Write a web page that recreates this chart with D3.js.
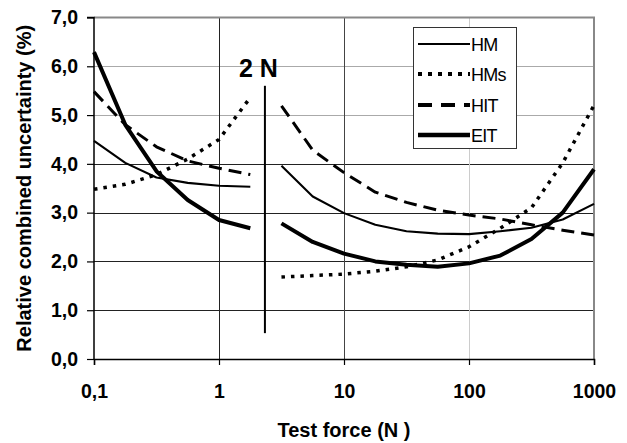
<!DOCTYPE html>
<html>
<head>
<meta charset="utf-8">
<script src="https://cdnjs.cloudflare.com/ajax/libs/d3/7.8.5/d3.min.js"></script>
<style>
  body { margin: 0; background: #fff; }
  svg { font-family: Arial, "Liberation Sans", sans-serif; }
  .tick text { font-weight: bold; font-size: 19.5px; fill: #000; }
</style>
</head>
<body>
<div id="chart-container"></div>
<script>
"use strict"

// test forces (N), two measuring ranges separated at 2 N
let xLeft = [0.1, 0.178, 0.316, 0.562, 1, 1.78];
let xRight = [3.16, 5.62, 10, 17.8, 31.6, 56.2, 100, 178, 316, 562, 1000];

// relative combined uncertainty (%)
let hmLeft = [4.47, 4.02, 3.72, 3.61, 3.55, 3.53];
let hmRight = [3.96, 3.33, 2.99, 2.75, 2.62, 2.57, 2.56, 2.62, 2.69, 2.86, 3.18];
let hmsLeft = [3.48, 3.58, 3.78, 4.1, 4.5, 5.36];
let hmsRight = [1.68, 1.71, 1.74, 1.8, 1.89, 2.03, 2.3, 2.68, 3.1, 4.02, 5.2];
let hitLeft = [5.48, 4.8, 4.35, 4.06, 3.91, 3.78];
let hitRight = [5.19, 4.28, 3.82, 3.42, 3.21, 3.05, 2.95, 2.87, 2.75, 2.64, 2.54];
let eitLeft = [6.29, 4.8, 3.85, 3.26, 2.85, 2.68];
let eitRight = [2.78, 2.4, 2.16, 2.0, 1.93, 1.89, 1.96, 2.12, 2.46, 3.0, 3.89];

let seriesNames = ["HM", "HMs", "HIT", "EIT"];
let xTicks = [0.1, 1, 10, 100, 1000];
let xTickLabels = ["0,1", "1", "10", "100", "1000"];
let yTicks = [0, 1, 2, 3, 4, 5, 6, 7];

// 2 N separator
let markerX = 2.33;
let markerY = [0.53, 5.6];

document.addEventListener('DOMContentLoaded', function(){
  drawChart();
});

function drawChart(){
  let svgWidth = 627;
  let svgHeight = 443;
  let left = 94, right = 594, top = 17.5, bottom = 359;

  var svg = d3.select('#chart-container')
    .append('svg')
    .attr('width', svgWidth)
    .attr('height', svgHeight);

  let xScale = d3.scaleLog().domain([0.1, 1000]).range([left, right]);
  let yScale = d3.scaleLinear().domain([0, 7]).range([bottom, top]);

  /***************************************
   GRID
  ***************************************/
  let hGridColor = {1: "#222", 2: "#222", 3: "#222", 4: "#222", 5: "#aaa", 6: "#aaa"};
  svg.append("g").selectAll("line")
    .data([1, 2, 3, 4, 5, 6])
    .enter().append("line")
    .attr("x1", left).attr("x2", right)
    .attr("y1", d => Math.round(yScale(d)) + 0.5)
    .attr("y2", d => Math.round(yScale(d)) + 0.5)
    .attr("stroke", d => hGridColor[d]);

  let vGridColor = {1: "#222", 10: "#444", 100: "#ccc"};
  svg.append("g").selectAll("line")
    .data([1, 10, 100])
    .enter().append("line")
    .attr("y1", top).attr("y2", bottom)
    .attr("x1", d => Math.round(xScale(d)) + 0.5)
    .attr("x2", d => Math.round(xScale(d)) + 0.5)
    .attr("stroke", d => vGridColor[d]);

  // top and right frame
  svg.append("path")
    .attr("d", `M${left},${yScale(7)}H${xScale(1000)}V${bottom}`)
    .attr("fill", "none")
    .attr("stroke", "#888")
    .attr("stroke-width", 2);

  /***************************************
   AXES
  ***************************************/
  const xAxis = d3.axisBottom(xScale)
    .tickValues(xTicks)
    .tickFormat((d, i) => xTickLabels[i])
    .tickSize(6)
    .tickPadding(19);
  const yAxis = d3.axisLeft(yScale)
    .tickValues(yTicks)
    .tickFormat(d => d.toFixed(1).replace(".", ","))
    .tickSize(7)
    .tickPadding(9);

  let gx = svg.append("g")
    .attr("transform", "translate(0, " + bottom + ")")
    .call(xAxis);
  let gy = svg.append("g")
    .attr("transform", "translate(" + left + ", 0)")
    .call(yAxis);
  [gx, gy].forEach(g => {
    g.select(".domain").attr("stroke", "#000").attr("stroke-width", 1.5);
    g.selectAll(".tick line").attr("stroke", "#000").attr("stroke-width", 1.2);
  });
  gy.select(".domain").attr("d", `M-7,${yScale(7)}H0V${bottom}`);

  svg.append('text')
    .attr('transform', 'translate(31,' + ((top + bottom) / 2) + ') rotate(-90)')
    .attr('text-anchor', 'middle')
    .style('font-weight', 'bold')
    .style('font-size', '20px')
    .text('Relative combined uncertainty (%)');

  svg.append('text')
    .attr('x', (left + right) / 2)
    .attr('y', 437)
    .attr('text-anchor', 'middle')
    .style('font-weight', 'bold')
    .style('font-size', '20px')
    .text('Test force (N )');

  /***************************************
   LINES
  ***************************************/
  let styles = {
    "HM":  {width: 2.1, dash: null},
    "HMs": {width: 3.5, dash: "3.5,6"},
    "HIT": {width: 3, dash: "13,7"},
    "EIT": {width: 4, dash: null}
  };
  let seriesData = {
    "HM": [hmLeft, hmRight],
    "HMs": [hmsLeft, hmsRight],
    "HIT": [hitLeft, hitRight],
    "EIT": [eitLeft, eitRight]
  };

  let line = d3.line()
    .x(d => xScale(d[0]))
    .y(d => yScale(d[1]));

  seriesNames.forEach(name => {
    let st = styles[name];
    [[xLeft, seriesData[name][0]], [xRight, seriesData[name][1]]].forEach(pair => {
      let pts = pair[0].map((x, i) => [x, pair[1][i]]);
      svg.append("path")
        .datum(pts)
        .attr("d", line)
        .attr("fill", "none")
        .attr("stroke", "#000")
        .attr("stroke-width", st.width)
        .attr("stroke-dasharray", st.dash)
        .attr("stroke-linejoin", "round");
    });
  });

  // 2 N marker
  svg.append("line")
    .attr("x1", xScale(markerX)).attr("x2", xScale(markerX))
    .attr("y1", yScale(markerY[1])).attr("y2", yScale(markerY[0]))
    .attr("stroke", "#000")
    .attr("stroke-width", 2);
  svg.append("text")
    .attr("x", 239)
    .attr("y", 77)
    .style("font-weight", "bold")
    .style("font-size", "25px")
    .text("2 N");

  /***************************************
   LEGEND
  ***************************************/
  let legend = svg.append("g");
  legend.append("rect")
    .attr("x", 413.5).attr("y", 27.5)
    .attr("width", 103).attr("height", 121)
    .attr("fill", "#fff")
    .attr("stroke", "#333");
  let rowY = [44, 74, 105, 135];
  seriesNames.forEach((name, i) => {
    legend.append("line")
      .attr("x1", 418).attr("x2", 470)
      .attr("y1", rowY[i]).attr("y2", rowY[i])
      .attr("stroke", "#000")
      .attr("stroke-width", name === "HM" ? 2.1 : (name === "EIT" ? 4.5 : 4))
      .attr("stroke-dasharray", name === "HMs" ? "4,6" : (name === "HIT" ? "14,9" : null));
    legend.append("text")
      .attr("x", 471)
      .attr("y", rowY[i] + 6.5)
      .style("font-size", "18px")
      .style("letter-spacing", "-0.8px")
      .text(name);
  });
}
</script>
</body>
</html>
